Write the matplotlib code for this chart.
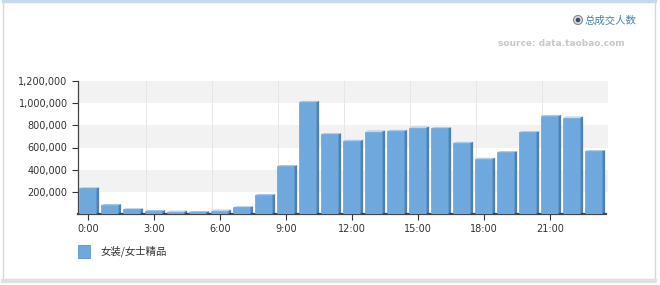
import matplotlib
matplotlib.use("Agg")
import matplotlib.pyplot as plt
from matplotlib.patches import Rectangle, Polygon, Circle

plt.rcParams['font.family'] = ['DejaVu Sans', 'Noto Sans CJK SC']

# data (orders per hour)
hours = list(range(24))
buyers = [231000, 81000, 42000, 27000, 21000, 18000, 30000, 60000, 171000, 432000,
          1011000, 720000, 660000, 744000, 750000, 780000, 774000, 642000, 498000,
          558000, 738000, 885000, 870000, 567000]
xtick_hours = [0, 3, 6, 9, 12, 15, 18, 21]
xtick_labels = ['0:00', '3:00', '6:00', '9:00', '12:00', '15:00', '18:00', '21:00']
ytick_values = [200000, 400000, 600000, 800000, 1000000, 1200000]
series_name = '女装/女士精品'
option_name = '总成交人数'
source_text = 'source: data.taobao.com'

W, H = 660, 285
fig = plt.figure(figsize=(W / 100, H / 100), dpi=100)
fig.patch.set_facecolor('white')

# outer frame of the widget
frame = fig.add_axes([0, 0, 1, 1])
frame.set_xlim(0, W)
frame.set_ylim(H, 0)
frame.axis('off')
frame.add_patch(Rectangle((3, 0), 652, 279, facecolor='white', edgecolor='#d8d8d8', lw=1))
frame.plot([3, 655], [1, 1], color='#c5daf0', lw=2.5)
frame.plot([3, 655], [281, 281], color='#e0e0e0', lw=3)
frame.add_patch(Circle((578, 20), 4.5, facecolor='#dddddd', edgecolor='#888888', lw=0.8))
frame.add_patch(Circle((578, 20), 2.3, facecolor='#2c4f7a', edgecolor='none'))
frame.text(585, 20.5, option_name, fontsize=7.5, color='#4a7fa8', va='center', ha='left',
           family=['Noto Sans CJK SC', 'DejaVu Sans'])
frame.text(625, 44, source_text, fontsize=6.5, color='#c8c8c8', fontweight='bold',
           va='center', ha='right')
frame.add_patch(Rectangle((78, 245), 12, 13, facecolor='#6fa8dc', edgecolor='#5b95c9', lw=0.6))
frame.text(101, 251.5, series_name, fontsize=7.5, color='#333333', va='center', ha='left',
           family=['Noto Sans CJK SC', 'DejaVu Sans'])

# plot area
left, right, top, bottom = 78, 608, 81, 214
ax = fig.add_axes([left / W, 1 - bottom / H, (right - left) / W, (bottom - top) / H])
ax.set_xlim(-0.45, 23.64)
ax.set_ylim(0, 1200000)

# alternating bands
for lo, hi in [(200000, 400000), (600000, 800000), (1000000, 1200000)]:
    ax.axhspan(lo, hi, color='#f2f2f2', lw=0, zorder=0)
for h in xtick_hours[1:]:
    ax.axvline(h - 0.34, color='#e6e6e6', lw=0.7, zorder=0.5)

bw = 0.78
dx, dy = 0.14, 9000
for h, v in zip(hours, buyers):
    x0 = h - bw / 2 - 0.02
    ax.add_patch(Polygon([(x0 + bw, 0), (x0 + bw + dx, dy), (x0 + bw + dx, v + dy), (x0 + bw, v)],
                         closed=True, facecolor='#4f82b3', edgecolor='none', zorder=2))
    ax.add_patch(Polygon([(x0, v), (x0 + dx, v + dy), (x0 + bw + dx, v + dy), (x0 + bw, v)],
                         closed=True, facecolor='#9cc4e8', edgecolor='none', zorder=2))
ax.bar([h - 0.02 for h in hours], buyers, width=bw, color='#6fa8dc', edgecolor='#5d97cc',
       lw=0.4, zorder=3)

ax.set_xticks(xtick_hours)
ax.set_xticklabels(xtick_labels)
ax.set_yticks(ytick_values)
ax.set_yticklabels(['{:,}'.format(v) for v in ytick_values])
ax.tick_params(axis='both', labelsize=7, colors='#333333', length=4, width=0.8)
ax.tick_params(axis='x', pad=3)

for s in ['top', 'right']:
    ax.spines[s].set_visible(False)
ax.spines['left'].set_color('#444444')
ax.spines['left'].set_linewidth(0.9)
ax.spines['bottom'].set_color('#444444')
ax.spines['bottom'].set_linewidth(1.6)
ax.spines['bottom'].set_bounds(-0.45, 23.55)
ax.set_facecolor('none')

fig.savefig('out.png', dpi=100)
